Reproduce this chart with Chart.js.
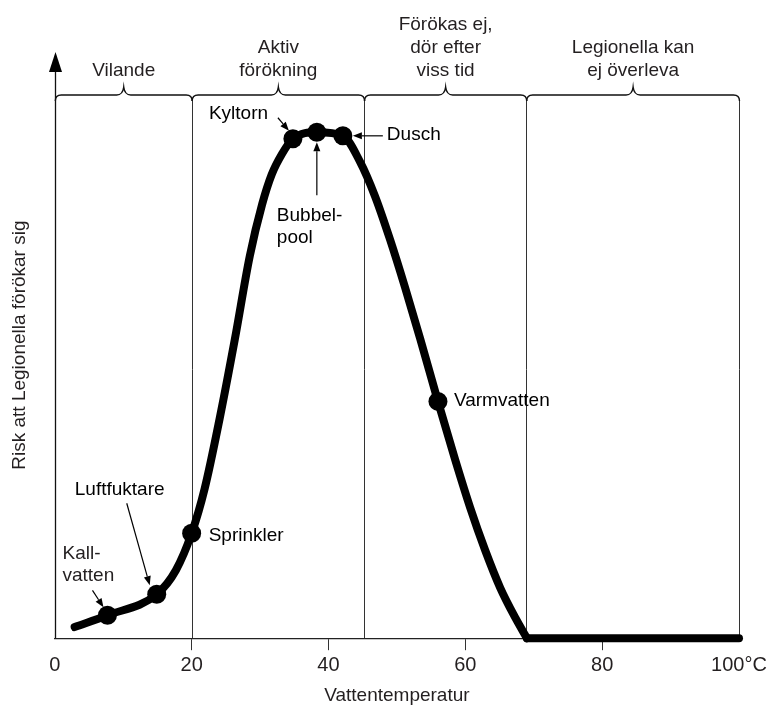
<!DOCTYPE html>
<html><head><meta charset="utf-8">
<script src="https://cdn.jsdelivr.net/npm/chart.js@4/dist/chart.umd.min.js"></script>
<style>html,body{margin:0;padding:0;background:#fff}#wrap{width:771px;height:707px}</style>
</head><body><div id="wrap"><canvas id="c" width="771" height="707"></canvas></div>
<script>
// ---- data ----
const curveTemp = [2.9, 7.7, 14.9, 17.7, 20.0, 21.9, 24.1, 26.3, 28.5, 30.3, 31.7, 33.2, 34.8, 38.3, 42.1, 44.6, 46.8, 49.0, 51.2, 53.4, 56.0, 58.5, 60.7, 62.9, 65.1, 67.3, 69.0];
const curveRisk = [1.9, 3.9, 7.5, 11.6, 17.9, 25.5, 37.5, 50.9, 65.2, 74.0, 79.1, 82.6, 85.2, 86.3, 85.7, 81.3, 75.4, 68.0, 59.8, 51.1, 40.4, 30.5, 22.3, 15.0, 8.6, 3.5, 0];
const deadTemp = [69.0, 100];
const deadRisk = [0, 0];
const siteNames = [['Kall-','vatten'], ['Luftfuktare'], ['Sprinkler'], ['Kyltorn'], ['Bubbel-','pool'], ['Dusch'], ['Varmvatten']];
const siteTemp = [7.7, 14.9, 20.0, 34.8, 38.3, 42.1, 56.0];
const siteRisk = [3.9, 7.5, 17.9, 85.2, 86.3, 85.7, 40.4];
const zoneBounds = [0, 20, 45.2, 68.9, 100];
const zoneNames = [['Vilande'], ['Aktiv','förökning'], ['Förökas ej,','dör efter','viss tid'], ['Legionella kan','ej överleva']];
const xTicks = [0, 20, 40, 60, 80, 100];
const xTitle = 'Vattentemperatur';
const yTitle = 'Risk att Legionella förökar sig';

// ---- styling / layout ----
const TXT = '#231f20';
const FAM = "'Liberation Sans', Arial, Helvetica, sans-serif";
const LBL = "19px " + FAM;
// label placement relative to each dot (pixels)
const siteLayout = [
  {dx:-45, dy:-62, lh:22, arrow:[-15,-25,-4,-8]},
  {dx:-82, dy:-104, lh:22, arrow:[-30,-91,-7,-9]},
  {dx:17, dy:2, lh:22, arrow:null},
  {dx:-84, dy:-25, lh:22, arrow:[-15,-21,-4,-8]},
  {dx:-40, dy:83, lh:22, arrow:[0,63,0,10]},
  {dx:44, dy:-1, lh:22, arrow:[40,0,10,0]},
  {dx:16, dy:-1, lh:22, arrow:null}
];

function drawArrow(ctx, x1, y1, x2, y2) {
  const a = Math.atan2(y2 - y1, x2 - x1);
  const hl = 9, hw = 3.5;
  const bx = x2 - hl * Math.cos(a), by = y2 - hl * Math.sin(a);
  ctx.beginPath();
  ctx.moveTo(x1, y1); ctx.lineTo(bx, by);
  ctx.lineWidth = 1.2; ctx.strokeStyle = '#000'; ctx.stroke();
  ctx.beginPath();
  ctx.moveTo(x2, y2);
  ctx.lineTo(bx + hw * Math.sin(a), by - hw * Math.cos(a));
  ctx.lineTo(bx - hw * Math.sin(a), by + hw * Math.cos(a));
  ctx.closePath(); ctx.fillStyle = '#000'; ctx.fill();
}

function drawBrace(ctx, x1, x2, y) {
  const xm = (x1 + x2) / 2;
  ctx.beginPath();
  ctx.moveTo(x1, y + 6);
  ctx.quadraticCurveTo(x1, y, x1 + 6, y);
  ctx.lineTo(xm - 7, y);
  ctx.quadraticCurveTo(xm - 1, y, xm, y - 8);
  ctx.quadraticCurveTo(xm + 1, y, xm + 7, y);
  ctx.lineTo(x2 - 6, y);
  ctx.quadraticCurveTo(x2, y, x2, y + 6);
  ctx.lineWidth = 1.4; ctx.strokeStyle = '#111'; ctx.stroke();
}

const decor = {
  id: 'decor',
  beforeDatasetsDraw(chart) {
    const {ctx, chartArea: ca, scales: {x, y}} = chart;
    ctx.save();
    const braceY = ca.top + 43;
    for (let i = 1; i < zoneBounds.length; i++) {
      const px = Math.round(x.getPixelForValue(zoneBounds[i])) + 0.5;
      ctx.beginPath(); ctx.moveTo(px, braceY + 6); ctx.lineTo(px, ca.bottom);
      ctx.lineWidth = 1; ctx.strokeStyle = '#333'; ctx.stroke();
    }
    const x0 = Math.round(x.getPixelForValue(0)) + 0.5;
    ctx.beginPath(); ctx.moveTo(x0, ca.bottom); ctx.lineTo(x0, ca.top + 15);
    ctx.lineWidth = 1.3; ctx.strokeStyle = '#111'; ctx.stroke();
    ctx.beginPath(); ctx.moveTo(x0, ca.top); ctx.lineTo(x0 - 6.5, ca.top + 20); ctx.lineTo(x0 + 6.5, ca.top + 20);
    ctx.closePath(); ctx.fillStyle = '#000'; ctx.fill();
    ctx.font = LBL; ctx.fillStyle = TXT; ctx.textAlign = 'center'; ctx.textBaseline = 'middle';
    for (let i = 0; i < zoneNames.length; i++) {
      const a = x.getPixelForValue(zoneBounds[i]) + 0.5, b = x.getPixelForValue(zoneBounds[i + 1]) + 0.5;
      drawBrace(ctx, a, b, braceY);
      const lines = zoneNames[i];
      const cx = (a + b) / 2;
      for (let j = 0; j < lines.length; j++) {
        const ly = ca.top + 19 - (lines.length - 1 - j) * 23;
        ctx.fillText(lines[j], cx, ly);
      }
    }
    ctx.restore();
  },
  afterDatasetsDraw(chart) {
    const {ctx, scales: {x, y}} = chart;
    ctx.save();
    ctx.font = LBL; ctx.fillStyle = TXT; ctx.textAlign = 'left'; ctx.textBaseline = 'middle';
    for (let i = 0; i < siteNames.length; i++) {
      const px = x.getPixelForValue(siteTemp[i]), py = y.getPixelForValue(siteRisk[i]);
      const L = siteLayout[i];
      siteNames[i].forEach((t, j) => ctx.fillText(t, px + L.dx, py + L.dy + j * L.lh));
      if (L.arrow) drawArrow(ctx, px + L.arrow[0], py + L.arrow[1], px + L.arrow[2], py + L.arrow[3]);
    }
    ctx.restore();
  }
};

new Chart(document.getElementById('c'), {
  type: 'line',
  data: {
    datasets: [
      {
        data: curveTemp.map((t, i) => ({x: t, y: curveRisk[i]})),
        borderColor: '#000', borderWidth: 8, pointRadius: 0,
        cubicInterpolationMode: 'monotone', borderCapStyle: 'round', borderJoinStyle: 'round', clip: false
      },
      {
        data: deadTemp.map((t, i) => ({x: t, y: deadRisk[i]})),
        borderColor: '#000', borderWidth: 8, pointRadius: 0, borderCapStyle: 'round', clip: false
      },
      {
        data: siteTemp.map((t, i) => ({x: t, y: siteRisk[i]})),
        showLine: false, pointRadius: 9.5, pointBackgroundColor: '#000', pointBorderWidth: 0, clip: false
      }
    ]
  },
  options: {
    responsive: false, animation: false,
    layout: {padding: {left: 8, right: 32, top: 52, bottom: 0}},
    plugins: {legend: {display: false}, tooltip: {enabled: false}},
    scales: {
      x: {
        type: 'linear', min: 0, max: 100,
        afterBuildTicks: s => { s.ticks = xTicks.map(v => ({value: v})); },
        ticks: {
          font: {size: 20, family: FAM}, color: TXT, padding: 3, autoSkip: false, maxRotation: 0,
          callback: v => v === 100 ? '100°C' : String(v)
        },
        grid: {
          display: true, drawOnChartArea: false, drawTicks: true, tickLength: 12, lineWidth: 1,
          color: c => (c.tick && c.tick.value > 0 && c.tick.value < 100) ? '#333' : 'rgba(0,0,0,0)'
        },
        border: {display: true, color: '#222', width: 1.2},
        title: {display: true, text: xTitle, font: {size: 19, family: FAM}, color: TXT, padding: {top: 4, bottom: 0}}
      },
      y: {
        type: 'linear', min: 0, max: 100,
        ticks: {display: false},
        grid: {display: false},
        border: {display: false},
        title: {display: true, text: yTitle, font: {size: 19, family: FAM}, color: TXT, padding: {top: 0, bottom: 16}}
      }
    }
  },
  plugins: [decor]
});
</script></body></html>
